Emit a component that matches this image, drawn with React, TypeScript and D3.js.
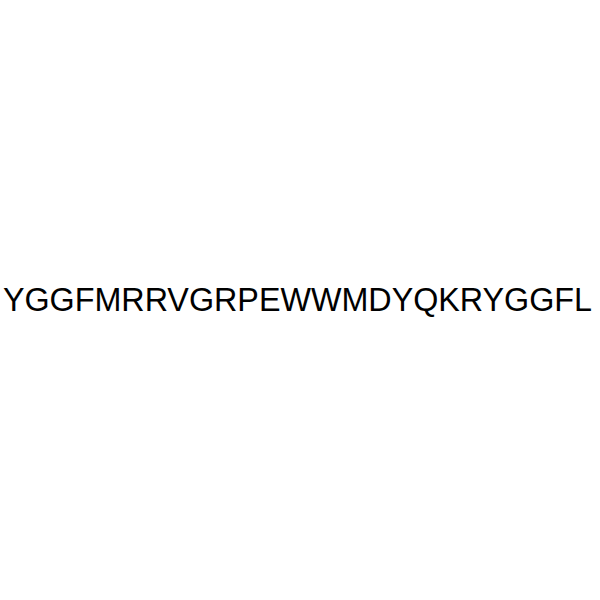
import React from 'react'
import * as d3 from 'd3'

// peptide sequence, one letter per residue
const residues = 'YGGFMRRVGRPEWWMDYQKRYGGFL'.split('')

const width = 600
const height = 600

export default function App() {
    const x = d3.scaleLinear().domain([0, 1]).range([0, width])
    const label = residues.join('')

    return (
        <svg
            width={width}
            height={height}
            style={{ position: 'absolute', left: 0, top: 0, background: '#fff' }}
        >
            <text
                x={x(0.4958)}
                y={311}
                textAnchor="middle"
                fontFamily="'Liberation Sans', Arial, sans-serif"
                fontSize={32.3}
                fill="#000"
            >
                {label}
            </text>
        </svg>
    )
}
